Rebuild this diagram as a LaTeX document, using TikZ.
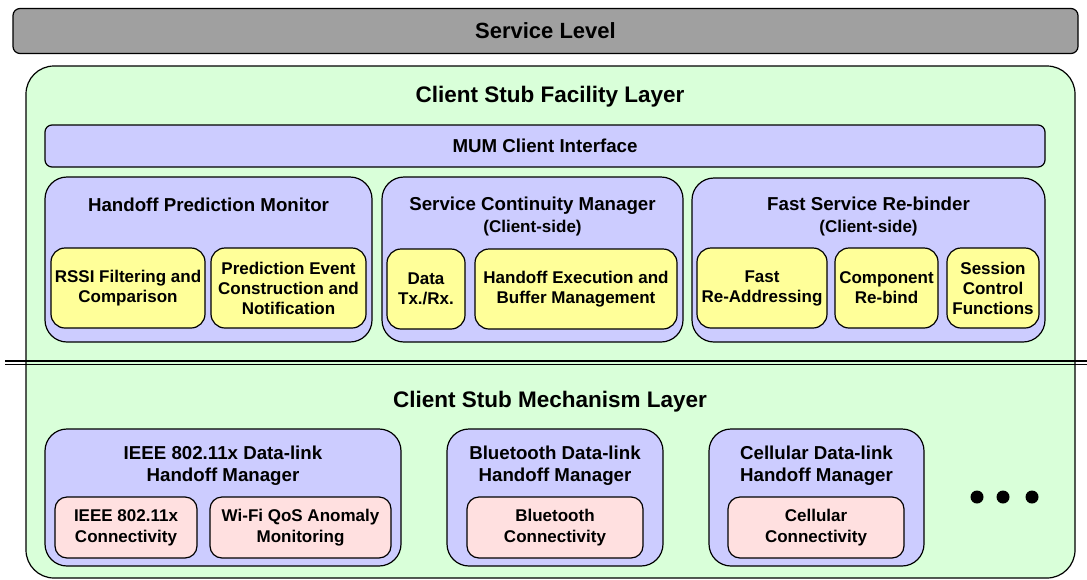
\documentclass[tikz,border=0pt]{standalone}
\usepackage{fontspec}
\setmainfont{Liberation Sans}
\usepackage{tikz}
\usetikzlibrary{positioning}
\definecolor{layergreen}{RGB}{217,255,217}
\definecolor{mgrlilac}{RGB}{204,204,255}
\definecolor{funcyellow}{RGB}{255,255,153}
\definecolor{linkpink}{RGB}{255,224,224}
\definecolor{levelgray}{RGB}{160,160,160}

\begin{document}
\begin{tikzpicture}[x=1pt, y=-1pt, line width=1.2pt,
   every node/.style={font=\bfseries, align=center, inner sep=0pt},
   level/.style={draw, fill=levelgray, rounded corners=7pt},
   layer/.style={draw, fill=layergreen, rounded corners=28pt},
   mgr/.style={draw, fill=mgrlilac, rounded corners=22pt, minimum height=137pt},
   iface/.style={draw, fill=mgrlilac, rounded corners=7pt},
   func/.style={draw, fill=funcyellow, rounded corners=14pt, minimum height=80pt,
                font=\bfseries\fontsize{17}{20}\selectfont},
   link/.style={draw, fill=linkpink, rounded corners=12pt, minimum height=61pt,
                font=\bfseries\fontsize{17}{21}\selectfont},
   bigtitle/.style={font=\bfseries\fontsize{22.5}{26}\selectfont},
   mgrtitle/.style={font=\bfseries\fontsize{18.7}{22}\selectfont}]
   \useasboundingbox (0,0) rectangle (1087,579);

   % service level bar
   \node[level, minimum width=1065pt, minimum height=45pt,
         font=\bfseries\fontsize{22}{26}\selectfont] (service) at (545.5,31) {Service Level};

   % client stub, both layers
   \node[layer, minimum width=1049pt, minimum height=512pt] (stub) at (550.5,322) {};
   \coordinate (divL) at (5,361);
   \coordinate (divR) at (1087,361);
   \draw (divL) -- (divR);
   \draw ([yshift=-3.5pt]divL) -- ([yshift=-3.5pt]divR);

   % facility layer
   \node[bigtitle] (facility) at (550,97) {Client Stub Facility Layer};
   \node[iface, minimum width=1000pt, minimum height=42pt, mgrtitle] (mum) at (545,146) {MUM Client Interface};

   \node[mgr, minimum width=327pt, minimum height=165pt] (hpm) at (208.5,259.5) {};
   \node[mgrtitle] (hpm_t) at (208.5,205) {Handoff Prediction Monitor};
   \node[func, minimum width=154pt] (rssi) at (128,288) {RSSI Filtering and\\Comparison};
   \node[func, minimum width=155pt] (pevent) at (288.5,288) {Prediction Event\\Construction and\\Notification};

   \node[mgr, minimum width=301pt, minimum height=165pt] (scm) at (532.5,259.5) {};
   \node[mgrtitle] (scm_t) at (532.5,216) {Service Continuity Manager\\{\fontsize{17}{22}\selectfont(Client-side)}};
   \node[func, minimum width=78pt] (data) at (426,289) {Data\\Tx./Rx.};
   \node[func, minimum width=202pt] (hexec) at (576,289) {Handoff Execution and\\Buffer Management};

   \node[mgr, minimum width=353pt, minimum height=164pt] (fsr) at (868.5,260) {};
   \node[mgrtitle] (fsr_t) at (868.5,216) {Fast Service Re-binder\\{\fontsize{17}{22}\selectfont(Client-side)}};
   \node[func, minimum width=130pt] (readdr) at (762,288) {Fast\\Re-Addressing};
   \node[func, minimum width=103pt] (rebind) at (886.5,288) {Component\\Re-bind};
   \node[func, minimum width=92pt] (session) at (993,288) {Session\\Control\\Functions};

   % mechanism layer
   \node[bigtitle] (mechanism) at (550,402) {Client Stub Mechanism Layer};

   \node[mgr, minimum width=356pt] (wlan) at (223,497.5) {};
   \node[mgrtitle] (wlan_t) at (223,465.5) {IEEE 802.11x Data-link\\Handoff Manager};
   \node[link, minimum width=142pt] (wlan_c) at (126,527.5) {IEEE 802.11x\\Connectivity};
   \node[link, minimum width=181pt] (qos) at (300.5,527.5) {Wi-Fi QoS Anomaly\\Monitoring};

   \node[mgr, minimum width=216pt] (bt) at (555,497.5) {};
   \node[mgrtitle] (bt_t) at (555,465.5) {Bluetooth Data-link\\Handoff Manager};
   \node[link, minimum width=176pt] (bt_c) at (555,527.5) {Bluetooth\\Connectivity};

   \node[mgr, minimum width=215pt] (cell) at (816.5,497.5) {};
   \node[mgrtitle] (cell_t) at (816.5,465.5) {Cellular Data-link\\Handoff Manager};
   \node[link, minimum width=176pt] (cell_c) at (816,527.5) {Cellular\\Connectivity};

   \foreach \i/\x in {1/977, 2/1003, 3/1032}
      \node[circle, fill, minimum size=13pt] (dot\i) at (\x,497) {};
\end{tikzpicture}
\end{document}
